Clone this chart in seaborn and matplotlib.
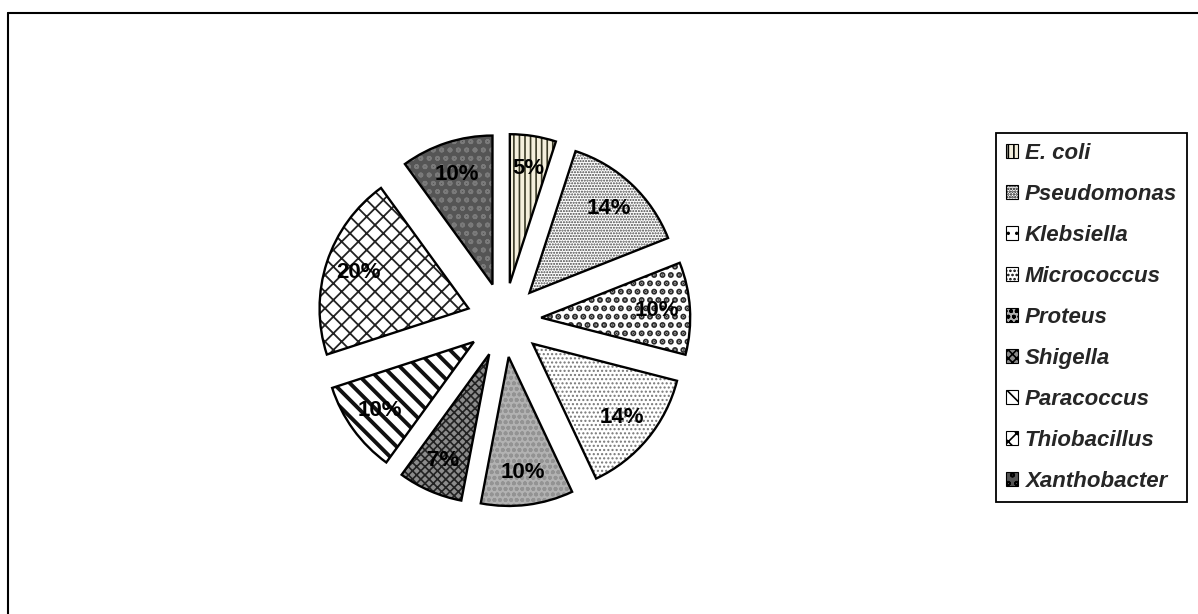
import matplotlib
matplotlib.use("Agg")
import matplotlib.pyplot as plt
from matplotlib.patches import Patch
from matplotlib.lines import Line2D
import seaborn as sns

sns.set_theme(style="white")
plt.rcParams['font.family'] = ['Liberation Sans', 'DejaVu Sans']
plt.rcParams['hatch.linewidth'] = 1.2

# ---- data ----
bacteria = ["E. coli", "Pseudomonas", "Klebsiella", "Micrococcus", "Proteus",
            "Shigella", "Paracoccus", "Thiobacillus", "Xanthobacter"]
percent = [5, 14, 10, 14, 10, 7, 10, 20, 10]

# ---- styles ----
face_colors = ["#f4efdc", "#ffffff", "#ffffff", "#ffffff", "#b2b2b2",
               "#8c8c8c", "#ffffff", "#ffffff", "#555555"]
hatch_colors = ["#3a3a26", "#444444", "#2a2a2a", "#777777", "#939393",
                "#222222", "#111111", "#222222", "#7a7a7a"]
hatches = ["|||", "......", "..", "....", "ooo",
           "xxxx", "\\\\", "xx", "oo"]
hatch_widths = [1.2, 1.0, 3.0, 1.0, 1.2, 1.2, 2.8, 1.3, 1.2]
explode = [0.25] * len(percent)

W, H = 1198, 614
fig = plt.figure(figsize=(W / 100, H / 100), dpi=100)
fig.patch.set_facecolor("white")

cx, cy, half = 504, 320, 200
ax = fig.add_axes([(cx - half) / W, (H - cy - half) / H, 2 * half / W, 2 * half / H])

# textured layer
wedges_fill, _ = ax.pie(percent, explode=explode, startangle=90, counterclock=False,
                        colors=face_colors, radius=1.0,
                        wedgeprops=dict(linewidth=0))
for w, h, hc, hw in zip(wedges_fill, hatches, hatch_colors, hatch_widths):
    w.set_hatch(h)
    w.set_edgecolor(hc)
    w.set_linewidth(0)
    if hasattr(w, "set_hatch_linewidth"):
        w.set_hatch_linewidth(hw)
    else:
        w._hatch_linewidth = hw

# outline layer with labels
wedges_out, _, autotexts = ax.pie(percent, explode=explode, startangle=90, counterclock=False,
                                  radius=1.0, autopct=lambda p: f"{p:.0f}%",
                                  pctdistance=0.78,
                                  wedgeprops=dict(fill=False, edgecolor="black", linewidth=1.7),
                                  textprops=dict(fontsize=16, fontweight="bold", color="black"))

lim = half / 149
ax.set_xlim(-lim, lim)
ax.set_ylim(-lim, lim)
ax.set_aspect("equal")
ax.axis("off")

# legend
handles = [Patch(facecolor=fc, edgecolor="black", hatch=h, linewidth=0.8)
           for fc, h in zip(face_colors, hatches)]
leg = fig.legend(handles, bacteria, loc="upper left",
                 bbox_to_anchor=(996 / W, 1 - 133 / H), borderaxespad=0,
                 frameon=True, fancybox=False, edgecolor="black", framealpha=1,
                 prop=dict(style="italic", weight="bold", size=16),
                 handlelength=0.55, handleheight=0.55, handletextpad=0.3,
                 labelspacing=0.9, borderpad=0.45)
leg.get_frame().set_linewidth(1.3)

# outer chart frame (cropped at right and bottom)
fig.add_artist(Line2D([8 / W, 1.0], [1 - 13 / H, 1 - 13 / H], color="black",
                      linewidth=1.5, transform=fig.transFigure))
fig.add_artist(Line2D([8 / W, 8 / W], [0.0, 1 - 13 / H], color="black",
                      linewidth=1.5, transform=fig.transFigure))

fig.savefig("out.png", dpi=100, facecolor="white")
